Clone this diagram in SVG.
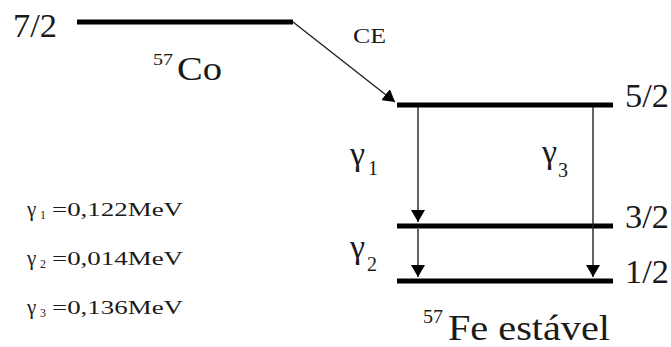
<svg xmlns="http://www.w3.org/2000/svg" width="671" height="347" viewBox="0 0 671 347" font-family="'Liberation Serif', 'DejaVu Serif', serif">
<style>
text{font-family:'Liberation Serif','DejaVu Serif',serif;fill:#1a1a1a}
.lvl{stroke:#000;stroke-width:5;fill:none}
.arr{stroke:#222;stroke-width:1.4;fill:none;marker-end:url(#ah)}
.big{font-size:33px}
.g{font-size:34px}
.gs{font-size:20px}
.sm{font-size:19px}
.smg{font-size:21px}
.sms{font-size:12px}
</style>
<defs>
<marker id="ah" viewBox="0 0 12 14" refX="12" refY="7" markerWidth="12" markerHeight="14" markerUnits="userSpaceOnUse" orient="auto">
<path d="M0,0 L12,7 L0,14 z" fill="#000"/>
</marker>
</defs>
<rect width="671" height="347" fill="#fff"/>
<g id="level-co">
<line class="lvl" x1="77" y1="22" x2="293" y2="22"/>
<text class="big" x="13" y="37" textLength="44" lengthAdjust="spacingAndGlyphs">7/2</text>
<text x="153" y="65" font-size="17" textLength="20" lengthAdjust="spacingAndGlyphs">57</text>
<text class="big" x="177" y="80" textLength="45" lengthAdjust="spacingAndGlyphs">Co</text>
</g>
<g id="level-52">
<line class="lvl" x1="397" y1="105" x2="613" y2="105"/>
<text class="big" x="625" y="107" textLength="44" lengthAdjust="spacingAndGlyphs">5/2</text>
</g>
<g id="level-32">
<line class="lvl" x1="397" y1="226" x2="613" y2="226"/>
<text class="big" x="625" y="228" textLength="44" lengthAdjust="spacingAndGlyphs">3/2</text>
</g>
<g id="level-12">
<line class="lvl" x1="397" y1="281" x2="613" y2="281"/>
<text class="big" x="625" y="283" textLength="44" lengthAdjust="spacingAndGlyphs">1/2</text>
</g>
<g id="fe-label">
<text x="423" y="323" font-size="19" textLength="20" lengthAdjust="spacingAndGlyphs">57</text>
<text x="448" y="340" font-size="35" textLength="162" lengthAdjust="spacingAndGlyphs">Fe estável</text>
</g>
<g id="connectors">
<line class="arr" x1="293" y1="22" x2="395" y2="102"/>
<line class="arr" x1="418" y1="107" x2="418" y2="222"/>
<line class="arr" x1="418" y1="229" x2="418" y2="277"/>
<line class="arr" x1="593" y1="107" x2="593" y2="277"/>
</g>
<g id="labels">
<text x="353" y="43" font-size="21" textLength="33" lengthAdjust="spacingAndGlyphs">CE</text>
<text class="g" x="350" y="165">γ</text><text class="gs" x="368" y="175">1</text>
<text class="g" x="350" y="258">γ</text><text class="gs" x="367" y="271">2</text>
<text class="g" x="542" y="163">γ</text><text class="gs" x="558" y="177">3</text>
</g>
<g id="legend">
<text class="smg" x="27" y="216">γ</text><text class="sms" x="40" y="219">1</text>
<text class="sm" x="52" y="216" textLength="131" lengthAdjust="spacingAndGlyphs">=0,122MeV</text>
<text class="smg" x="27" y="265">γ</text><text class="sms" x="40" y="268">2</text>
<text class="sm" x="52" y="265" textLength="131" lengthAdjust="spacingAndGlyphs">=0,014MeV</text>
<text class="smg" x="27" y="314">γ</text><text class="sms" x="40" y="317">3</text>
<text class="sm" x="52" y="314" textLength="131" lengthAdjust="spacingAndGlyphs">=0,136MeV</text>
</g>
</svg>
